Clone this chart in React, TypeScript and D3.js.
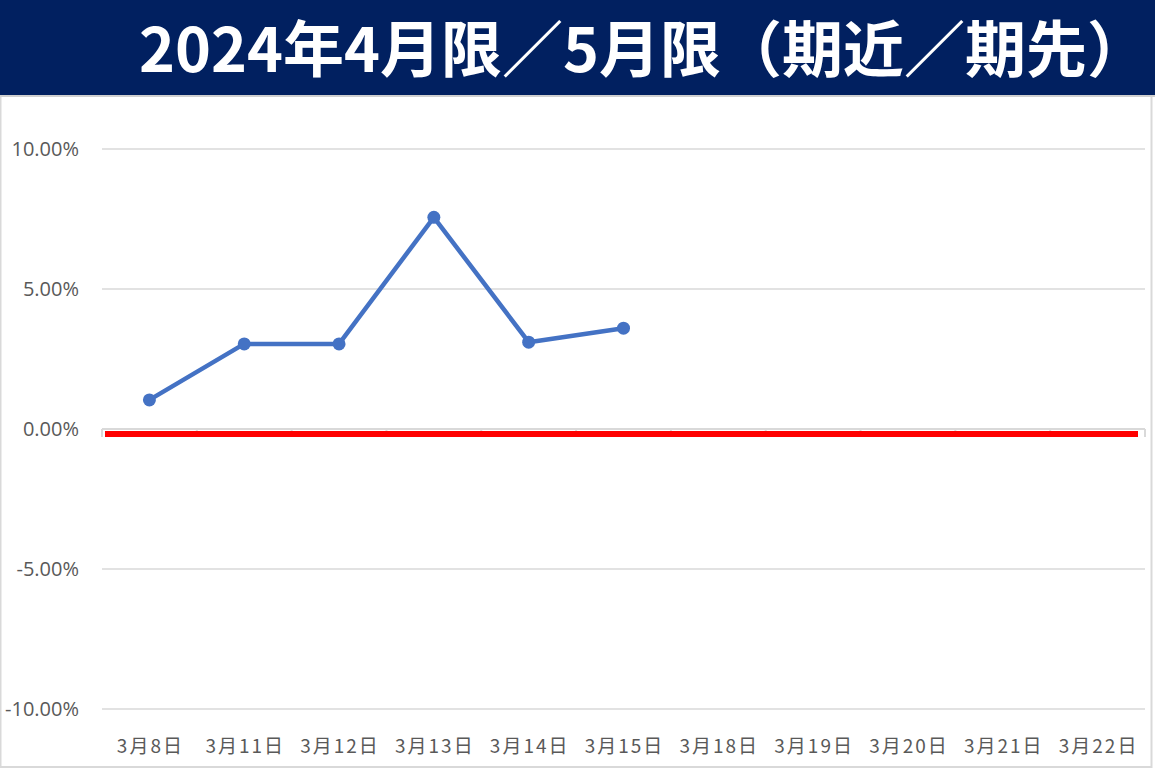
import React from "react";
import * as d3 from "d3";

const categories = ["3月8日", "3月11日", "3月12日", "3月13日", "3月14日", "3月15日", "3月18日", "3月19日", "3月20日", "3月21日", "3月22日"];
const spreadValues = [1.04, 3.04, 3.04, 7.56, 3.1, 3.6];
const zeroLineValue = -0.18;
const yTicks = [10, 5, 0, -5, -10];
const titleText = "2024年4月限／5月限（期近／期先）";

const W = 1155;
const H = 771;

export default function App() {
  const x = d3.scaleBand<string>().domain(categories).range([102, 1145]).paddingInner(0).paddingOuter(0);
  const y = d3.scaleLinear().domain([-10, 10]).range([709, 149]);
  const cx = (c: string) => (x(c) as number) + x.bandwidth() / 2;

  const pts = spreadValues.map((v, i) => [cx(categories[i]), y(v)] as [number, number]);
  const line = d3.line();
  const [r0, r1] = x.range();

  return (
    <div style={{ position: "absolute", left: 0, top: 0 }}>
      <svg width={W} height={H} style={{ display: "block", background: "#fff" }}>
        <rect x={0.5} y={96} width={1151} height={671} fill="none" stroke="#d9d9d9" strokeWidth={2} />
        <rect x={0} y={0} width={W} height={95} fill="#012060" />
        <line x1={0} x2={W} y1={96} y2={96} stroke="#d0d0d0" strokeWidth={2} />
        <text x={139} y={72} fill="#fff" fontSize={61} fontWeight={700} fontFamily="'Noto Sans CJK JP', sans-serif">
          {titleText}
        </text>

        {yTicks.map((t) => (
          <g key={t}>
            {t !== 0 && (
              <line x1={r0} x2={r1} y1={y(t)} y2={y(t)} stroke="#d9d9d9" strokeWidth={1.5} />
            )}
            <text x={79} y={y(t)} dy="0.36em" textAnchor="end" fill="#595959" fontSize={20} fontFamily="'Open Sans', sans-serif">
              {t.toFixed(2) + "%"}
            </text>
          </g>
        ))}

        <line x1={r0} x2={r1} y1={y(0)} y2={y(0)} stroke="#d9d9d9" strokeWidth={2} />
        {categories.map((c) => (
          <line key={"t" + c} x1={x(c) as number} x2={x(c) as number} y1={y(0)} y2={y(0) + 8} stroke="#d9d9d9" strokeWidth={2} />
        ))}
        <line x1={r1} x2={r1} y1={y(0)} y2={y(0) + 8} stroke="#d9d9d9" strokeWidth={2} />

        {categories.map((c) => (
          <text key={"l" + c} x={cx(c) + 1} y={746} dy="0.36em" textAnchor="middle" fill="#595959" fontSize={19} letterSpacing={2} fontFamily="'Noto Sans CJK JP', sans-serif">
            {c}
          </text>
        ))}

        <line x1={r0 + 3} x2={r1 - 7} y1={y(zeroLineValue)} y2={y(zeroLineValue)} stroke="#ff0000" strokeWidth={6} />

        <path d={line(pts) || ""} fill="none" stroke="#4472c4" strokeWidth={4.5} strokeLinejoin="round" />
        {pts.map((p, i) => (
          <circle key={i} cx={p[0]} cy={p[1]} r={6.5} fill="#4472c4" />
        ))}
      </svg>
    </div>
  );
}
